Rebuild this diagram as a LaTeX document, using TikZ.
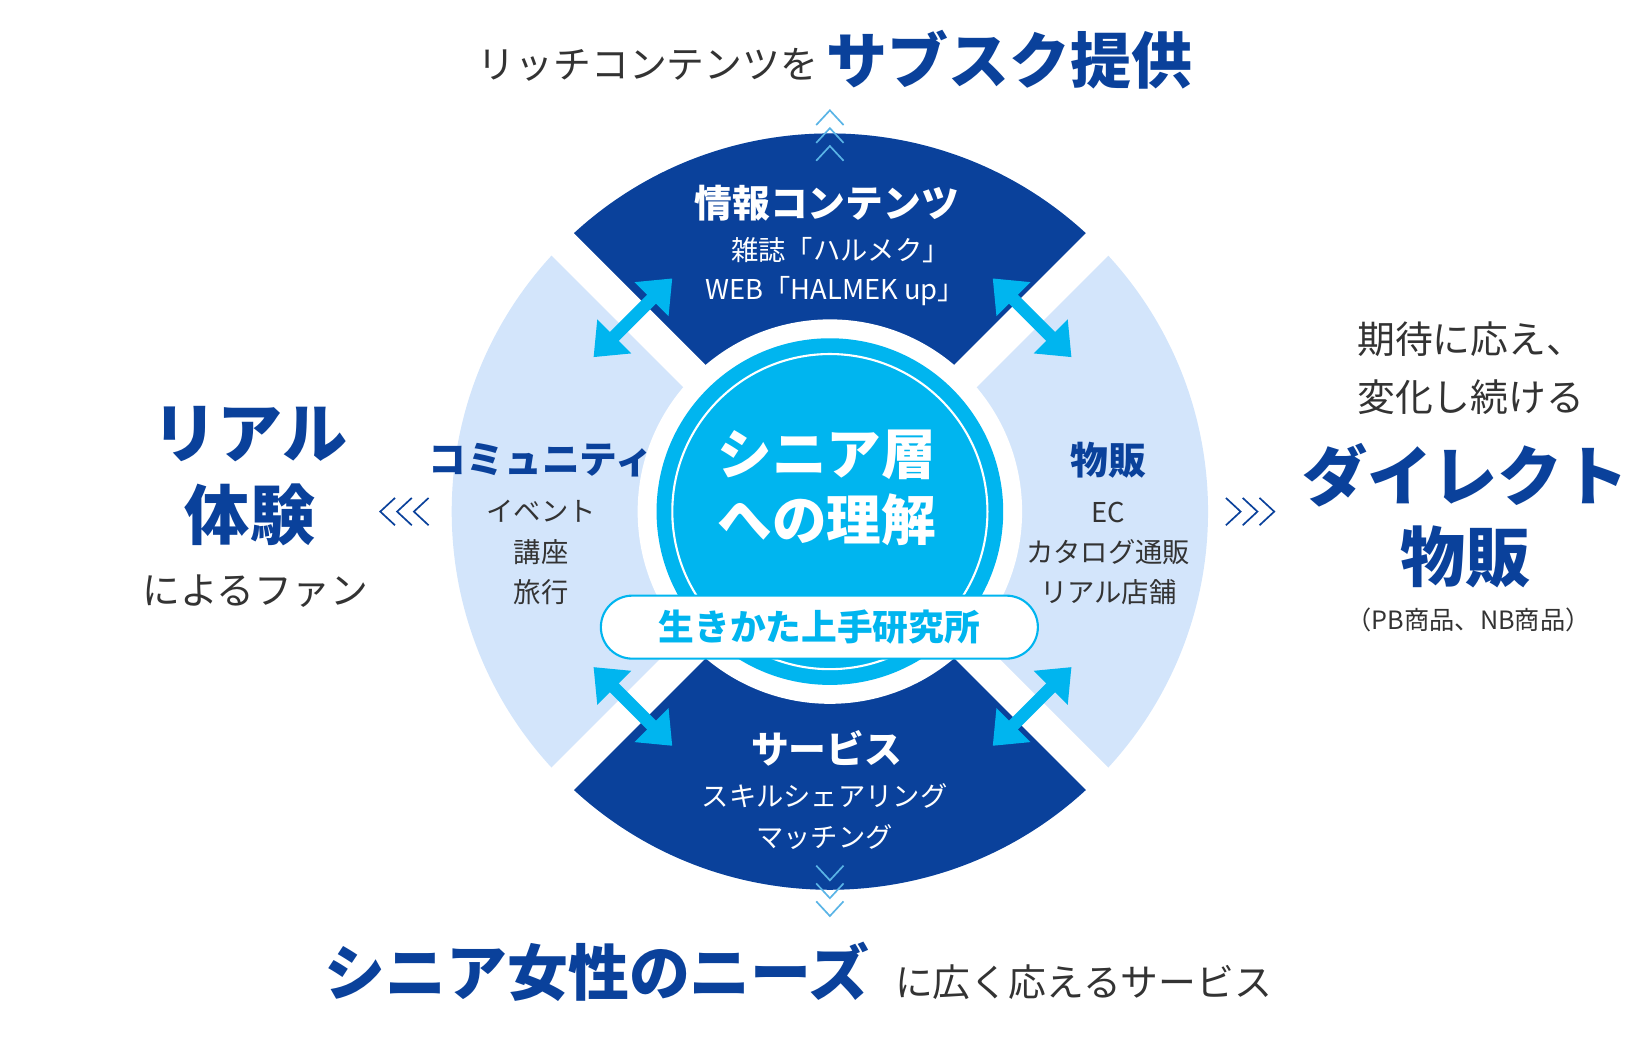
\documentclass[tikz,border=0pt]{standalone}
\usepackage{fontspec}
\setmainfont{Noto Sans CJK JP}
\usetikzlibrary{arrows.meta}
\definecolor{halnavy}{HTML}{0A419B}
\definecolor{halpale}{HTML}{D3E5FB}
\definecolor{halcyan}{HTML}{00B5EF}
\definecolor{halgrey}{HTML}{333333}
\definecolor{halsky}{HTML}{5AB4E6}
\tikzset{
  headnavy/.style={text=halnavy, font=\bfseries\fontsize{31}{36}\selectfont},
  plaingrey/.style={text=halgrey, font=\fontsize{18}{22}\selectfont},
  sectorhead/.style={font=\bfseries\fontsize{18}{22}\selectfont},
  sectoritem/.style={font=\fontsize{13}{16}\selectfont},
  linkarrow/.style={halcyan, line width=6pt, {Triangle[length=14pt,width=22pt]}-{Triangle[length=14pt,width=22pt]}},
  chevron/.style={line width=0.8pt},
}
\newcommand{\sectorfill}[3]{\fill[#1] (C) ++(#2:360) arc[start angle=#2, end angle=#3, radius=360] -- (C) -- cycle;}
\newcommand{\linkarrow}[3]{\coordinate (#1a) at (#2); \coordinate (#1b) at (#3); \draw[linkarrow] (#1a) -- (#1b);}
\begin{document}
\begin{tikzpicture}[x=0.5pt, y=-0.5pt]
\useasboundingbox (0,0) rectangle (1565,992);
\coordinate (C) at (790,487);

% ring
\fill[halpale] (C) circle[radius=360];
\sectorfill{halnavy}{225}{315}
\sectorfill{halnavy}{45}{135}
\foreach \a in {45,135,225,315}
  \draw[white, line width=15pt] (C) -- ++(\a:400);
\fill[white] (C) circle[radius=183];
\fill[halcyan] (C) circle[radius=165];
\draw[white, line width=1pt] (C) circle[radius=150];

% arrows between sectors
\linkarrow{tl}{565,340}{640,265}
\linkarrow{tr}{945,265}{1020,340}
\linkarrow{bl}{565,635}{640,710}
\linkarrow{br}{945,710}{1020,635}

% center
\node[text=white, font=\bfseries\fontsize{26}{30}\selectfont] (core1) at (787,433) {シニア層};
\node[text=white, font=\bfseries\fontsize{26}{30}\selectfont] (core2) at (787,495) {への理解};
\node[draw=halcyan, line width=1pt, fill=white, rounded corners=15pt, minimum width=208pt, minimum height=30pt,
  text=halcyan, font=\bfseries\fontsize{17}{20}\selectfont] (lab) at (780,597) {生きかた上手研究所};

% sectors
\node[sectorhead, text=white] (info) at (787,193) {情報コンテンツ};
\node[sectoritem, text=white] (info1) at (800,238) {雑誌「ハルメク」};
\node[sectoritem, text=white] (info2) at (795,277) {WEB「HALMEK up」};
\node[sectorhead, text=halnavy] (comm) at (515,438) {コミュニティ};
\node[sectoritem, text=halgrey] (comm1) at (515,487) {イベント};
\node[sectoritem, text=halgrey] (comm2) at (515,526) {講座};
\node[sectoritem, text=halgrey] (comm3) at (515,564) {旅行};
\node[sectorhead, text=halnavy] (shop) at (1055,438) {物販};
\node[sectoritem, text=halgrey] (shop1) at (1055,488) {EC};
\node[sectoritem, text=halgrey] (shop2) at (1055,526) {カタログ通販};
\node[sectoritem, text=halgrey] (shop3) at (1055,564) {リアル店舗};
\node[sectorhead, text=white] (serv) at (787,712) {サービス};
\node[sectoritem, text=white] (serv1) at (785,758) {スキルシェアリング};
\node[sectoritem, text=white] (serv2) at (785,797) {マッチング};

% outer texts
\node[plaingrey, anchor=east] (topa) at (786,62) {リッチコンテンツを};
\node[headnavy, anchor=west, font=\bfseries\fontsize{29}{34}\selectfont] (topb) at (780,57) {サブスク提供};
\node[headnavy] (left1) at (238,413) {リアル};
\node[headnavy] (left2) at (238,490) {体験};
\node[plaingrey] (left3) at (243,563) {によるファン};
\node[plaingrey] (right1) at (1400,323) {期待に応え、};
\node[plaingrey] (right2) at (1400,378) {変化し続ける};
\node[headnavy] (right3) at (1395,452) {ダイレクト};
\node[headnavy] (right4) at (1395,530) {物販};
\node[text=halgrey, font=\fontsize{12}{14}\selectfont] (right5) at (1398,590) {（PB商品、NB商品）};
\node[headnavy, anchor=east, font=\bfseries\fontsize{29}{34}\selectfont] (bota) at (835,925) {シニア女性のニーズ};
\node[plaingrey, anchor=west] (botb) at (845,935) {に広く応えるサービス};

% chevrons
\foreach \y in {105,122,139}
  \draw[chevron, halsky] (777,\y+14) -- (790,\y) -- (803,\y+14);
\foreach \y in {838,855,872}
  \draw[chevron, halsky] (777,\y-14) -- (790,\y) -- (803,\y-14);
\foreach \x in {362,378,394}
  \draw[chevron, halnavy] (\x+14,474) -- (\x,487) -- (\x+14,500);
\foreach \x in {1213,1197,1181}
  \draw[chevron, halnavy] (\x-14,474) -- (\x,487) -- (\x-14,500);
\end{tikzpicture}
\end{document}
